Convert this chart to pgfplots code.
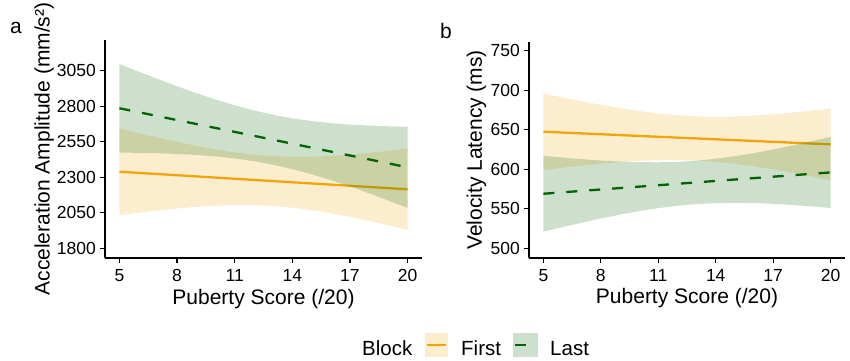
\documentclass[border=0pt]{standalone}
\usepackage{fontspec}
\setmainfont{Liberation Sans}
\usepackage{pgfplots}
\pgfplotsset{compat=1.18}
\definecolor{orgC}{RGB}{242,165,8}
\definecolor{grnC}{RGB}{0,100,0}
\pgfplotsset{
  myax/.style={
    scale only axis, width=317bp,
    axis lines=left, axis line style={-, line width=1.1bp, black},
    tick align=outside, major tick length=5bp, tick style={line width=1.1bp, black},
    xmin=4.25, xmax=20.75, xtick={5,8,11,14,17,20},
    /pgf/number format/assume math mode=true,
    /pgf/number format/1000 sep={},
    xticklabel style={font=\fontsize{17.5bp}{20bp}\selectfont, anchor=base, yshift=-18.7bp, inner sep=0pt},
    yticklabel style={font=\fontsize{17.5bp}{20bp}\selectfont, anchor=east, xshift=-4bp, inner sep=0pt},
    label style={font=\fontsize{21bp}{24bp}\selectfont},
    xlabel style={at={(axis description cs:0.5,-0.212)}, anchor=base},
    xlabel={Puberty Score (/20)},
    clip=false,
  },
  ribO/.style={draw=none, fill=orgC, fill opacity=0.2},
  ribG/.style={draw=none, fill=grnC, fill opacity=0.2},
  lnO/.style={orgC, line width=2.3bp, no marks},
  lnG/.style={grnC, line width=2.3bp, no marks, dash pattern=on 11bp off 12bp},
}
\begin{document}
\begin{tikzpicture}
\useasboundingbox (0,0) rectangle (850bp,361bp);
% Panel a
\begin{axis}[myax, at={(105bp,103bp)}, anchor=south west, height=218bp,
  ymin=1732, ymax=3268, ytick={1800,2050,2300,2550,2800,3050},
  ylabel={Acceleration Amplitude (mm/s²)},
  ylabel style={at={(axis description cs:-0.192,0.5)}, anchor=center}]
\addplot[ribO] coordinates {
 (5,2646) (6,2612) (7,2580) (8,2550) (9,2522) (10,2497) (11,2476) (12,2460)
 (13,2450) (14,2445) (15,2446) (16,2451) (17,2460) (18,2473) (19,2487) (20,2503)
 (20,1929) (19,1962) (18,1993) (17,2021) (16,2047) (15,2069) (14,2086) (13,2098)
 (12,2104) (11,2105) (10,2100) (9,2092) (8,2081) (7,2067) (6,2051) (5,2034)} -- cycle;
\addplot[lnO] coordinates {(5,2340) (20,2216)};
\addplot[ribG] coordinates {
 (5,3099) (6,3045) (7,2993) (8,2942) (9,2894) (10,2849) (11,2808) (12,2772)
 (13,2741) (14,2716) (15,2697) (16,2683) (17,2672) (18,2665) (19,2660) (20,2657)
 (20,2085) (19,2137) (18,2188) (17,2236) (16,2281) (15,2322) (14,2358) (13,2389)
 (12,2414) (11,2433) (10,2448) (9,2458) (8,2465) (7,2470) (6,2473) (5,2475)} -- cycle;
\addplot[lnG] coordinates {(5,2787) (20,2371)};
\end{axis}
% Panel b
\begin{axis}[myax, at={(529bp,103bp)}, anchor=south west, height=216.3bp, width=316bp,
  ymin=487.7, ymax=761.4, ytick={500,550,600,650,700,750},
  ylabel={Velocity Latency (ms)},
  ylabel style={at={(axis description cs:-0.166,0.5)}, anchor=center}]
\addplot[ribO] coordinates {
 (5,696.0) (6,690.9) (7,686.1) (8,681.5) (9,677.3) (10,673.7) (11,670.6) (12,668.3)
 (13,666.9) (14,666.5) (15,666.8) (16,667.8) (17,669.6) (18,671.7) (19,674.2) (20,677.0)
 (20,586.0) (19,590.8) (18,595.5) (17,599.8) (16,603.6) (15,606.8) (14,609.3) (13,610.9)
 (12,611.7) (11,611.6) (10,610.7) (9,609.1) (8,607.1) (7,604.7) (6,601.9) (5,599.0)} -- cycle;
\addplot[lnO] coordinates {(5,647.5) (20,631.5)};
\addplot[ribG] coordinates {
 (5,617.0) (6,614.8) (7,612.8) (8,611.1) (9,609.8) (10,609.0) (11,608.8) (12,609.4)
 (13,610.9) (14,613.3) (15,616.5) (16,620.4) (17,625.0) (18,630.0) (19,635.4) (20,641.0)
 (20,551.0) (19,553.0) (18,554.8) (17,556.2) (16,557.2) (15,557.5) (14,557.1) (13,555.9)
 (12,553.8) (11,550.8) (10,547.0) (9,542.6) (8,537.7) (7,532.4) (6,526.8) (5,521.0)} -- cycle;
\addplot[lnG] coordinates {(5,569) (20,596)};
\end{axis}
% panel tags
\node[anchor=base west, inner sep=0pt, font=\fontsize{21bp}{24bp}\selectfont] at (10bp,327.7bp) {a};
\node[anchor=base west, inner sep=0pt, font=\fontsize{21bp}{24bp}\selectfont] at (440bp,322.7bp) {b};
% legend
\begin{scope}[font=\fontsize{20.5bp}{24bp}\selectfont]
\node[anchor=base west, inner sep=0pt] at (362bp,6bp) {Block};
\fill[orgC, opacity=0.2] (425bp,4bp) rectangle (448bp,28bp);
\draw[orgC, line width=2.3bp] (427bp,16bp) -- (446bp,16bp);
\node[anchor=base west, inner sep=0pt] at (461bp,6bp) {First};
\fill[grnC, opacity=0.2] (513bp,4bp) rectangle (538bp,28bp);
\draw[grnC, line width=2.3bp, dash pattern=on 11bp off 12bp] (515bp,16bp) -- (536bp,16bp);
\node[anchor=base west, inner sep=0pt] at (550bp,6bp) {Last};
\end{scope}
\end{tikzpicture}
\end{document}
